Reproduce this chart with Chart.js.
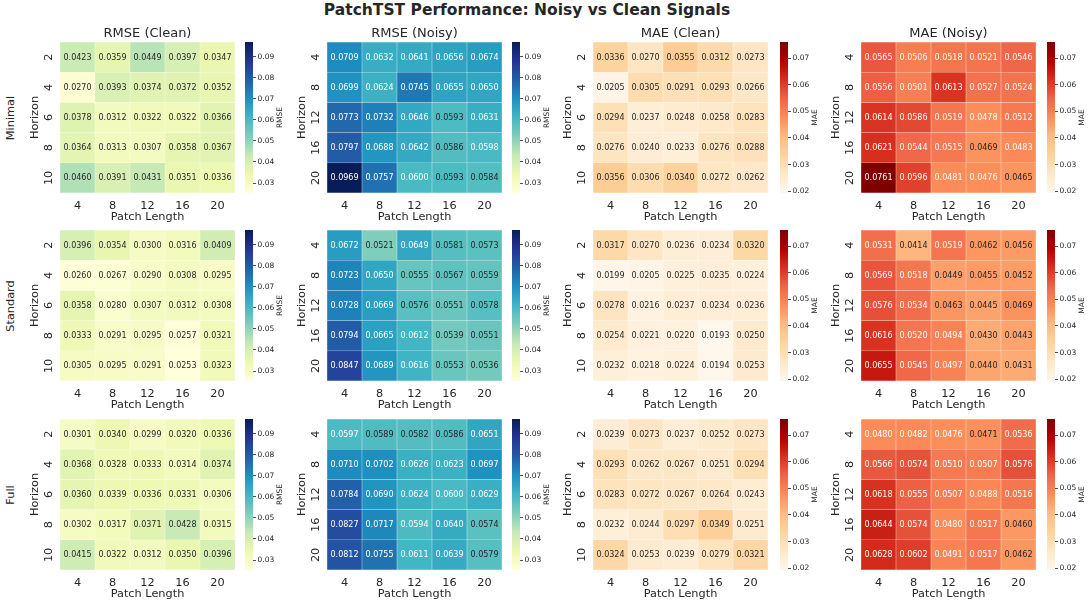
<!DOCTYPE html>
<html>
<head>
<meta charset="utf-8">
<script src="https://cdn.jsdelivr.net/npm/chart.js@4.4.1/dist/chart.umd.min.js"></script>
<style>
  body { margin: 0; background: #fff; width: 1090px; height: 605px; position: relative; overflow: hidden;
         font-family: 'DejaVu Sans', sans-serif; color: #262626; }
  canvas { position: absolute; }
  .suptitle { position: absolute; left: 0; width: 1054px; top: 1px; text-align: center; font-weight: bold; font-size: 15.5px; }
  .rowlabel { position: absolute; font-size: 11.3px; transform: translate(-50%, -50%) rotate(-90deg); white-space: nowrap; }
</style>
</head>
<body>
<div class="suptitle">PatchTST Performance: Noisy vs Clean Signals</div>
<script>
// ---- data ----
const patchLengths = ['4', '8', '12', '16', '20']
const horizonsClean = ['2', '4', '6', '8', '10']
const horizonsNoisy = ['4', '8', '12', '16', '20']
const noiseLevels = ['Minimal', 'Standard', 'Full']
const panelTitles = ['RMSE (Clean)', 'RMSE (Noisy)', 'MAE (Clean)', 'MAE (Noisy)']
const rmseTicks = [0.03, 0.04, 0.05, 0.06, 0.07, 0.08, 0.09]
const maeTicks = [0.02, 0.03, 0.04, 0.05, 0.06, 0.07]

// one 5x5 grid per noise level (rows = horizon, cols = patch length)
const rmseClean = [
  [[0.0423, 0.0359, 0.0449, 0.0397, 0.0347],
   [0.0270, 0.0393, 0.0374, 0.0372, 0.0352],
   [0.0378, 0.0312, 0.0322, 0.0322, 0.0366],
   [0.0364, 0.0313, 0.0307, 0.0358, 0.0367],
   [0.0460, 0.0391, 0.0431, 0.0351, 0.0336]],
  [[0.0396, 0.0354, 0.0300, 0.0316, 0.0409],
   [0.0260, 0.0267, 0.0290, 0.0308, 0.0295],
   [0.0358, 0.0280, 0.0307, 0.0312, 0.0308],
   [0.0333, 0.0291, 0.0295, 0.0257, 0.0321],
   [0.0305, 0.0295, 0.0291, 0.0253, 0.0323]],
  [[0.0301, 0.0340, 0.0299, 0.0320, 0.0336],
   [0.0368, 0.0328, 0.0333, 0.0314, 0.0374],
   [0.0360, 0.0339, 0.0336, 0.0331, 0.0306],
   [0.0302, 0.0317, 0.0371, 0.0428, 0.0315],
   [0.0415, 0.0322, 0.0312, 0.0350, 0.0396]]
]
const rmseNoisy = [
  [[0.0709, 0.0632, 0.0641, 0.0656, 0.0674],
   [0.0699, 0.0624, 0.0745, 0.0655, 0.0650],
   [0.0773, 0.0732, 0.0646, 0.0593, 0.0631],
   [0.0797, 0.0688, 0.0642, 0.0586, 0.0598],
   [0.0969, 0.0757, 0.0600, 0.0593, 0.0584]],
  [[0.0672, 0.0521, 0.0649, 0.0581, 0.0573],
   [0.0723, 0.0650, 0.0555, 0.0567, 0.0559],
   [0.0728, 0.0669, 0.0576, 0.0551, 0.0578],
   [0.0794, 0.0665, 0.0612, 0.0539, 0.0551],
   [0.0847, 0.0689, 0.0616, 0.0553, 0.0536]],
  [[0.0597, 0.0589, 0.0582, 0.0586, 0.0651],
   [0.0710, 0.0702, 0.0626, 0.0623, 0.0697],
   [0.0784, 0.0690, 0.0624, 0.0600, 0.0629],
   [0.0827, 0.0717, 0.0594, 0.0640, 0.0574],
   [0.0812, 0.0755, 0.0611, 0.0639, 0.0579]]
]
const maeClean = [
  [[0.0336, 0.0270, 0.0355, 0.0312, 0.0273],
   [0.0205, 0.0305, 0.0291, 0.0293, 0.0266],
   [0.0294, 0.0237, 0.0248, 0.0258, 0.0283],
   [0.0276, 0.0240, 0.0233, 0.0276, 0.0288],
   [0.0356, 0.0306, 0.0340, 0.0272, 0.0262]],
  [[0.0317, 0.0270, 0.0236, 0.0234, 0.0320],
   [0.0199, 0.0205, 0.0225, 0.0235, 0.0224],
   [0.0278, 0.0216, 0.0237, 0.0234, 0.0236],
   [0.0254, 0.0221, 0.0220, 0.0193, 0.0250],
   [0.0232, 0.0218, 0.0224, 0.0194, 0.0253]],
  [[0.0239, 0.0273, 0.0237, 0.0252, 0.0273],
   [0.0293, 0.0262, 0.0267, 0.0251, 0.0294],
   [0.0283, 0.0272, 0.0267, 0.0264, 0.0243],
   [0.0232, 0.0244, 0.0297, 0.0349, 0.0251],
   [0.0324, 0.0253, 0.0239, 0.0279, 0.0321]]
]
const maeNoisy = [
  [[0.0565, 0.0506, 0.0518, 0.0521, 0.0546],
   [0.0556, 0.0501, 0.0613, 0.0527, 0.0524],
   [0.0614, 0.0586, 0.0519, 0.0478, 0.0512],
   [0.0621, 0.0544, 0.0515, 0.0469, 0.0483],
   [0.0761, 0.0596, 0.0481, 0.0476, 0.0465]],
  [[0.0531, 0.0414, 0.0519, 0.0462, 0.0456],
   [0.0569, 0.0518, 0.0449, 0.0455, 0.0452],
   [0.0576, 0.0534, 0.0463, 0.0445, 0.0469],
   [0.0616, 0.0520, 0.0494, 0.0430, 0.0443],
   [0.0655, 0.0545, 0.0497, 0.0440, 0.0431]],
  [[0.0480, 0.0482, 0.0476, 0.0471, 0.0536],
   [0.0566, 0.0574, 0.0510, 0.0507, 0.0576],
   [0.0618, 0.0555, 0.0507, 0.0488, 0.0516],
   [0.0644, 0.0574, 0.0480, 0.0517, 0.0460],
   [0.0628, 0.0602, 0.0491, 0.0517, 0.0462]]
]

// ---- colormaps ----
const YlGnBu = [[255,255,217],[237,248,177],[199,233,180],[127,205,187],[65,182,196],[29,145,192],[34,94,168],[37,52,148],[8,29,88]]
const OrRd = [[255,247,236],[254,232,200],[253,212,158],[253,187,132],[252,141,89],[239,101,72],[215,48,31],[179,0,0],[127,0,0]]

const sample = (stops, t) => {
  t = Math.max(0, Math.min(1, t)) * (stops.length - 1)
  const i = Math.min(Math.floor(t), stops.length - 2)
  const f = t - i
  return stops[i].map((c, k) => c + (stops[i + 1][k] - c) * f)
}
const rgb = (c) => `rgb(${c.map(Math.round).join(',')})`
const textColor = (c) => {
  const lin = c.map(v => { v /= 255; return v <= 0.03928 ? v / 12.92 : Math.pow((v + 0.055) / 1.055, 2.4) })
  const lum = 0.2126 * lin[0] + 0.7152 * lin[1] + 0.0722 * lin[2]
  return lum > 0.408 ? '#262626' : '#ffffff'
}

const rmseMin = Math.min(...rmseClean.flat(2), ...rmseNoisy.flat(2))
const rmseMax = Math.max(...rmseClean.flat(2), ...rmseNoisy.flat(2))
const maeMin = Math.min(...maeClean.flat(2), ...maeNoisy.flat(2))
const maeMax = Math.max(...maeClean.flat(2), ...maeNoisy.flat(2))

Chart.defaults.font.family = "'DejaVu Sans', sans-serif"
Chart.defaults.color = '#262626'

// ---- layout ----
const colLeft = [60, 327, 593, 861]
const cbLeft = [245, 512, 780, 1047]
const rowTop = [42, 230, 419]
const mapW = 175, mapH = 151

const addCanvas = (left, top, w, h) => {
  const cv = document.createElement('canvas')
  cv.width = w
  cv.height = h
  cv.style.left = left + 'px'
  cv.style.top = top + 'px'
  document.body.appendChild(cv)
  return cv
}

const cellText = {
  id: 'cellText',
  afterDatasetsDraw(chart) {
    const ctx = chart.ctx
    ctx.save()
    ctx.font = "8px 'DejaVu Sans'"
    ctx.textAlign = 'center'
    ctx.textBaseline = 'middle'
    chart.data.datasets.forEach((ds, i) => {
      chart.getDatasetMeta(i).data.forEach((bar, j) => {
        ctx.fillStyle = textColor(ds.cellRgb[j])
        ctx.fillText(ds.values[j].toFixed(4), bar.x, (bar.y + bar.base) / 2 + 0.5)
      })
    })
    ctx.restore()
  }
}

const cbLabel = {
  id: 'cbLabel',
  afterDraw(chart) {
    const a = chart.chartArea
    const ctx = chart.ctx
    ctx.save()
    ctx.translate(a.right + 27, (a.top + a.bottom) / 2)
    ctx.rotate(-Math.PI / 2)
    ctx.font = "7.5px 'DejaVu Sans'"
    ctx.fillStyle = '#262626'
    ctx.textAlign = 'center'
    ctx.textBaseline = 'middle'
    ctx.fillText(chart.options.plugins.cbLabel.text, 0, 0)
    ctx.restore()
  }
}

const heatmap = (grid, yLabels, title, stops, vmin, vmax, left, top) => {
  const cv = addCanvas(left - 32, top - 30, 32 + mapW, 30 + mapH + 31)
  const datasets = grid.map((row, r) => {
    const cols = row.map(v => sample(stops, (v - vmin) / (vmax - vmin)))
    return {
      data: row.map(() => [r, r + 1]),
      values: row,
      cellRgb: cols,
      backgroundColor: cols.map(rgb),
      borderColor: 'rgba(255,255,255,0.3)',
      borderWidth: 0.5,
      borderSkipped: false,
      grouped: false,
      barPercentage: 1,
      categoryPercentage: 1
    }
  })
  new Chart(cv, {
    type: 'bar',
    data: { labels: patchLengths, datasets: datasets },
    options: {
      responsive: false,
      animation: false,
      devicePixelRatio: 1,
      layout: { padding: { top: title ? 14 : 30, right: 0, left: 0, bottom: 0 } },
      plugins: {
        legend: { display: false },
        tooltip: { enabled: false },
        title: {
          display: !!title, text: title, fullSize: false,
          font: { size: 13, weight: 'normal' }, padding: { top: 0, bottom: 0.4 }, color: '#262626'
        }
      },
      scales: {
        x: {
          afterFit: (s) => { s.height = 31; s.paddingLeft = 0; s.paddingRight = 0 },
          ticks: { padding: 6.5, maxRotation: 0, font: { size: 11.3 } },
          grid: { display: false, drawTicks: false },
          border: { display: false },
          title: { display: true, text: 'Patch Length', font: { size: 11.3 }, padding: 0 }
        },
        y: {
          type: 'linear', min: 0, max: 5, reverse: true,
          afterBuildTicks: (s) => { s.ticks = yLabels.map((_, i) => ({ value: i + 0.5 })) },
          afterFit: (s) => { s.width = 32; s.paddingTop = 0; s.paddingBottom = 0 },
          ticks: {
            autoSkip: false, minRotation: 90, maxRotation: 90, crossAlign: 'center', padding: 4,
            font: { size: 11.3 }, callback: (v, i) => yLabels[i]
          },
          grid: { display: false, drawTicks: false },
          border: { display: false },
          title: { display: true, text: 'Horizon', font: { size: 11.3 }, padding: 0 }
        }
      }
    },
    plugins: [cellText]
  })
}

const colorbar = (stops, vmin, vmax, ticks, label, left, top) => {
  const cv = addCanvas(left, top - 10, 8 + 32, mapH + 20)
  new Chart(cv, {
    type: 'bar',
    data: {
      labels: [label],
      datasets: [{
        data: [[vmin, vmax]],
        backgroundColor: (c) => {
          const area = c.chart.chartArea
          if (!area) return '#fff'
          const g = c.chart.ctx.createLinearGradient(0, area.bottom, 0, area.top)
          stops.forEach((s, i) => g.addColorStop(i / (stops.length - 1), rgb(s)))
          return g
        },
        borderWidth: 0,
        borderSkipped: false,
        barPercentage: 1,
        categoryPercentage: 1
      }]
    },
    options: {
      responsive: false,
      animation: false,
      devicePixelRatio: 1,
      layout: { padding: { top: 10, bottom: 10, left: 0, right: 0 } },
      plugins: { legend: { display: false }, tooltip: { enabled: false }, cbLabel: { text: label } },
      scales: {
        x: { display: false },
        y: {
          position: 'right', min: vmin, max: vmax,
          afterBuildTicks: (s) => { s.ticks = ticks.map(v => ({ value: v })) },
          afterFit: (s) => { s.width = 32; s.paddingTop = 0; s.paddingBottom = 0 },
          ticks: { font: { size: 7.5 }, padding: 1.5, callback: (v) => v.toFixed(2) },
          grid: { drawOnChartArea: false, drawTicks: true, tickLength: 3, color: '#262626', lineWidth: 0.8 },
          border: { display: false }
        }
      }
    },
    plugins: [cbLabel]
  })
}

// ---- build the 3x4 grid ----
noiseLevels.forEach((level, r) => {
  const top = rowTop[r]
  const lab = document.createElement('div')
  lab.className = 'rowlabel'
  lab.textContent = level
  lab.style.left = '9.5px'
  lab.style.top = (top + mapH / 2) + 'px'
  document.body.appendChild(lab)

  const t = (k) => (r === 0 ? panelTitles[k] : '')
  heatmap(rmseClean[r], horizonsClean, t(0), YlGnBu, rmseMin, rmseMax, colLeft[0], top)
  heatmap(rmseNoisy[r], horizonsNoisy, t(1), YlGnBu, rmseMin, rmseMax, colLeft[1], top)
  heatmap(maeClean[r], horizonsClean, t(2), OrRd, maeMin, maeMax, colLeft[2], top)
  heatmap(maeNoisy[r], horizonsNoisy, t(3), OrRd, maeMin, maeMax, colLeft[3], top)

  colorbar(YlGnBu, rmseMin, rmseMax, rmseTicks, 'RMSE', cbLeft[0], top)
  colorbar(YlGnBu, rmseMin, rmseMax, rmseTicks, 'RMSE', cbLeft[1], top)
  colorbar(OrRd, maeMin, maeMax, maeTicks, 'MAE', cbLeft[2], top)
  colorbar(OrRd, maeMin, maeMax, maeTicks, 'MAE', cbLeft[3], top)
})
</script>
</body>
</html>
